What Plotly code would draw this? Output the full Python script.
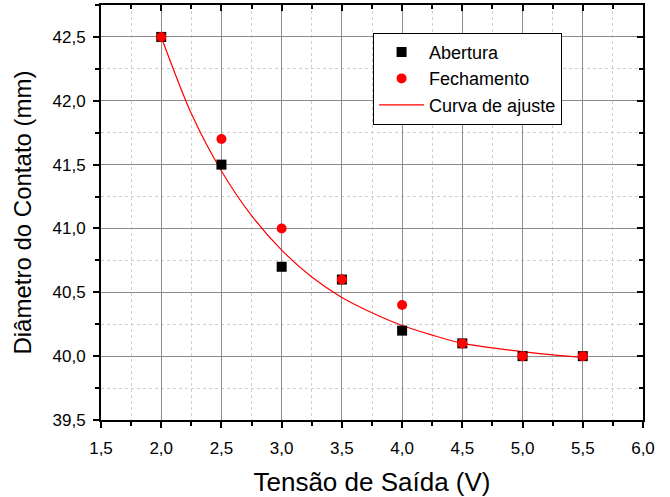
import plotly.graph_objects as go

# Data
tensao = [2.0, 2.5, 3.0, 3.5, 4.0, 4.5, 5.0, 5.5]
abertura = [42.5, 41.5, 40.7, 40.6, 40.2, 40.1, 40.0, 40.0]
fechamento = [42.5, 41.7, 41.0, 40.6, 40.4, 40.1, 40.0, 40.0]
curva_x = [2.0, 2.25, 2.5, 2.75, 3.0, 3.25, 3.5, 3.75, 4.0, 4.25, 4.5, 4.75, 5.0, 5.25, 5.5]
curva_y = [42.50, 41.90, 41.45, 41.10, 40.83, 40.62, 40.46, 40.34, 40.24, 40.165, 40.10,
           40.065, 40.035, 40.01, 39.99]

FONT = "Liberation Sans, Arial, sans-serif"
XR = [1.5, 6.0]
YR = [39.5, 42.75]

fig = go.Figure()
fig.add_trace(go.Scatter(x=curva_x, y=curva_y, mode="lines", name="Curva de ajuste",
                         line=dict(color="#FF0000", width=1.2, shape="spline", smoothing=0.8),
                         showlegend=False))
fig.add_trace(go.Scatter(x=tensao, y=abertura, mode="markers", name="Abertura",
                         marker=dict(symbol="square", size=10, color="black")))
fig.add_trace(go.Scatter(x=tensao, y=fechamento, mode="markers", name="Fechamento",
                         marker=dict(symbol="circle", size=10, color="#FF0000")))
fig.add_trace(go.Scatter(x=[None], y=[None], mode="lines", name="Curva de ajuste",
                         line=dict(color="#FF0000", width=1.2)))
fig.add_trace(go.Scatter(x=[None], y=[None], xaxis="x2", yaxis="y2", showlegend=False,
                         hoverinfo="skip"))

axis_common = dict(
    showline=True, linecolor="black", linewidth=2,
    ticks="outside", ticklen=6, tickwidth=1.5, tickcolor="black",
    showgrid=True, gridcolor="#8c8c8c", gridwidth=1,
    zeroline=False, automargin=False,
    tickfont=dict(family=FONT, size=17, color="black"),
    tickformat=".1f",
)

fig.update_layout(
    width=670, height=497,
    margin=dict(l=101, r=27, t=5, b=77),
    paper_bgcolor="white", plot_bgcolor="white",
    separators=", ",
    font=dict(family=FONT, color="black"),
    xaxis=dict(range=XR, dtick=0.5, tick0=1.5, ticklabelstandoff=6,
               minor=dict(dtick=0.25, ticks="outside", ticklen=4, tickcolor="black",
                          showgrid=True, gridcolor="#cfcfcf", griddash="dot", gridwidth=1),
               title=dict(text="Tensão de Saída (V)", font=dict(family=FONT, size=26),
                          standoff=16),
               **axis_common),
    yaxis=dict(range=YR, dtick=0.5, tick0=39.5, ticklabelstandoff=4,
               minor=dict(dtick=0.25, ticks="outside", ticklen=4, tickcolor="black",
                          showgrid=True, gridcolor="#cfcfcf", griddash="dot", gridwidth=1),
               title=dict(text="Diâmetro do Contato (mm)", font=dict(family=FONT, size=24),
                          standoff=14),
               **axis_common),
    xaxis2=dict(range=XR, overlaying="x", side="top", anchor="y2", automargin=False,
                showline=True, linecolor="black", linewidth=2,
                ticks="inside", ticklen=6, tickwidth=1.5, tickcolor="black",
                dtick=0.5, tick0=1.5, showticklabels=False, showgrid=False, zeroline=False,
                minor=dict(dtick=0.25, ticks="inside", ticklen=4, tickcolor="black")),
    yaxis2=dict(range=YR, overlaying="y", side="right", anchor="x2", automargin=False,
                showline=True, linecolor="black", linewidth=2,
                ticks="inside", ticklen=6, tickwidth=1.5, tickcolor="black",
                dtick=0.5, tick0=39.5, showticklabels=False, showgrid=False, zeroline=False,
                minor=dict(dtick=0.25, ticks="inside", ticklen=4, tickcolor="black")),
    legend=dict(x=0.502, y=0.933, xanchor="left", yanchor="top",
                bgcolor="white", bordercolor="black", borderwidth=1,
                font=dict(family=FONT, size=18, color="black"),
                itemwidth=45, tracegroupgap=0),
    showlegend=True,
)

fig.write_html("out.html", config={"displayModeBar": False},
               post_script="document.body.style.margin='0';document.body.style.padding='0';")
